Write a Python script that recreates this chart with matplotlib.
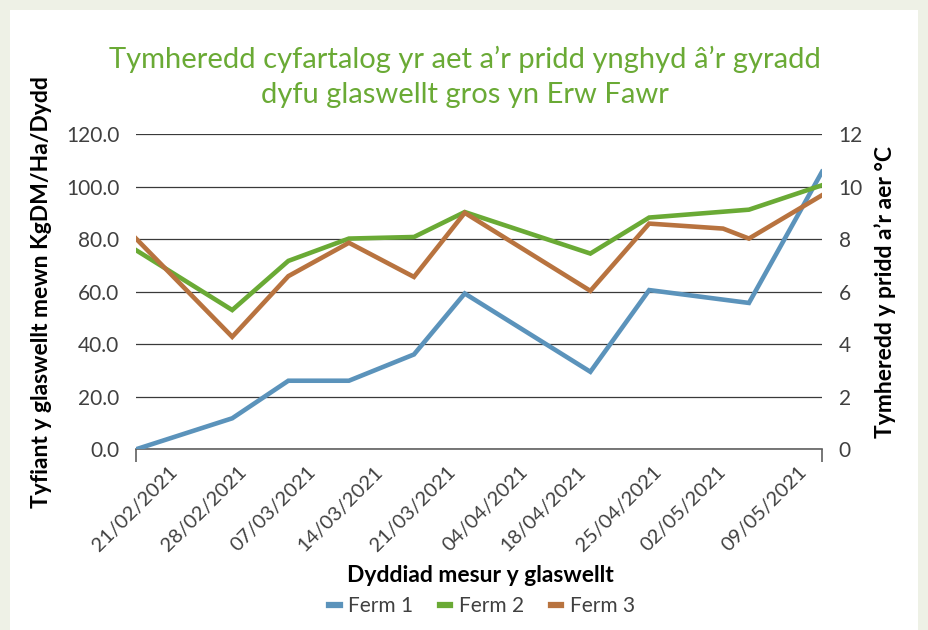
import matplotlib
matplotlib.use("Agg")
import matplotlib.pyplot as plt
from matplotlib.lines import Line2D

# DATA ---------------------------------------------------------------
# x = days since 21/02/2021
days = [0, 10.8, 17.1, 23.9, 31.2, 36.9, 51.0, 57.6, 68.8, 77]
days_f3 = [0, 10.8, 17.1, 23.9, 31.2, 36.9, 51.0, 57.6, 65.9, 68.8, 77]

ferm1 = [0.0, 11.8, 26.1, 26.1, 36.1, 59.3, 29.5, 60.6, 55.7, 105.6]
ferm2 = [75.8, 53.0, 71.7, 80.2, 80.8, 90.3, 74.5, 88.2, 91.2, 100.5]
ferm3 = [80.2, 42.8, 65.9, 78.6, 65.6, 90.0, 60.3, 85.9, 84.0, 80.2, 96.7]

date_labels = ["21/02/2021", "28/02/2021", "07/03/2021", "14/03/2021",
               "21/03/2021", "04/04/2021", "18/04/2021", "25/04/2021",
               "02/05/2021", "09/05/2021"]
label_days = [5.0, 12.8, 20.5, 28.1, 36.2, 44.4, 50.8, 59.3, 66.6, 75.6]

series_names = ["Ferm 1", "Ferm 2", "Ferm 3"]
colors = ["#5b93bb", "#6aaa35", "#b8733f"]

# PLOTTING -----------------------------------------------------------
plt.rcParams["font.family"] = ["Lato", "DejaVu Sans"]
grey = "#404040"

fig = plt.figure(figsize=(9.29, 6.3), dpi=100)
fig.patch.set_facecolor("#eef1e6")
fig.patches.append(plt.Rectangle((10 / 929, 0), 908 / 929, 620 / 630,
                                 transform=fig.transFigure, facecolor="white",
                                 edgecolor="none", zorder=-10))

ax = fig.add_axes([136 / 929, 1 - 449.3 / 630, 686 / 929, (449.3 - 134) / 630])
ax.set_facecolor("none")

ax.plot(days, ferm1, color=colors[0], lw=3.3, solid_joinstyle="miter", zorder=3)
ax.plot(days, ferm2, color=colors[1], lw=3.3, solid_joinstyle="miter", zorder=3)
ax.plot(days_f3, ferm3, color=colors[2], lw=3.3, solid_joinstyle="miter", zorder=3)

ax.set_xlim(0, 77)
ax.set_ylim(0, 120)
ax.set_yticks(range(0, 121, 20))
ax.set_yticklabels([f"{v:.1f}" for v in range(0, 121, 20)])
ax.yaxis.grid(True, color="#3a3a3a", lw=0.9)
ax.set_axisbelow(True)
for s in ["left", "right", "top"]:
    ax.spines[s].set_visible(False)
ax.spines["bottom"].set_color("#606060")
ax.spines["bottom"].set_linewidth(1.2)
ax.tick_params(axis="y", length=0, pad=12, labelsize=15, labelcolor=grey)

ax.set_xticks(label_days)
ax.set_xticklabels(date_labels, rotation=45, ha="right", va="top",
                   fontsize=14.5, color=grey)
ax.tick_params(axis="x", length=0, pad=10)
ax.set_xticks([0, 77], minor=True)
ax.tick_params(axis="x", which="minor", length=9, width=1.2, color="#606060")

ax2 = ax.twinx()
ax2.set_ylim(0, 12)
ax2.set_yticks(range(0, 13, 2))
for s in ["left", "right", "top", "bottom"]:
    ax2.spines[s].set_visible(False)
ax2.tick_params(axis="y", length=0, pad=12, labelsize=15, labelcolor=grey)

ax.set_ylabel("Tyfiant y glaswellt mewn KgDM/Ha/Dydd", fontsize=16.5,
              fontweight="bold", color="black", labelpad=10)
ax2.set_ylabel("Tymheredd y pridd a\u2019r aer \u00b0C", fontsize=16.5,
               fontweight="bold", color="black", labelpad=8)
fig.text(480 / 929, 1 - 576 / 630, "Dyddiad mesur y glaswellt", fontsize=16.5,
         fontweight="bold", color="black", ha="center", va="center")

fig.text(465 / 929, 1 - 77 / 630,
         "Tymheredd cyfartalog yr aet a\u2019r pridd ynghyd \u00e2\u2019r gyradd\n"
         "dyfu glaswellt gros yn Erw Fawr",
         ha="center", va="center", fontsize=21, color="#6aaa35",
         linespacing=1.45)

handles = [Line2D([0], [0], color=c, lw=4.5) for c in colors]
fig.legend(handles, series_names, loc="center", bbox_to_anchor=(482 / 929, 1 - 606 / 630),
           ncol=3, frameon=False, fontsize=15, labelcolor=grey,
           handlelength=0.5, handletextpad=0.4, columnspacing=1.3)

fig.savefig("out.png", dpi=100, facecolor=fig.get_facecolor())
